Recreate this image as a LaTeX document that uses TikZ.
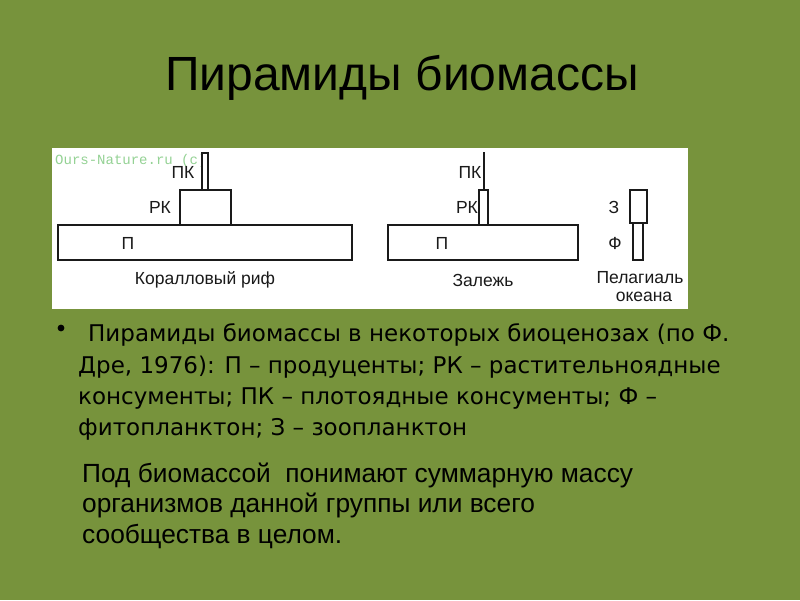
\documentclass[tikz,border=0pt]{standalone}
\usepackage{fontspec}
\setmainfont{Liberation Sans}
\newfontfamily\bodyfont{DejaVu Sans}
\newfontfamily\markfont{Liberation Mono}
\definecolor{bg}{HTML}{77933C}
\definecolor{mark}{HTML}{94D294}
\definecolor{ink}{HTML}{1A1A1A}
\begin{document}
\begin{tikzpicture}[x=1pt,y=-1pt,
  bar/.style={draw=ink,line width=1.3pt,fill=white},
  lbl/.style={font=\fontsize{17.5}{19}\selectfont,text=ink,inner sep=0pt},
  bodyline/.style={anchor=base west,inner sep=0pt,font=\bodyfont\fontsize{23}{26}\selectfont},
  paraline/.style={anchor=base west,inner sep=0pt,font=\fontsize{26.3}{30}\selectfont}]
\fill[bg] (0,0) rectangle (800,600);
\useasboundingbox (0,0) rectangle (800,600);
% title
\node[anchor=base west,inner sep=0pt,font=\fontsize{48}{52}\selectfont] (title) at (165,90) {Пирамиды биомассы};
% white picture
\fill[white] (52,148) rectangle (688,309);
\node[anchor=base west,inner sep=0pt,text=mark,font=\markfont\fontsize{14}{15}\selectfont] (wm) at (55,164) {Ours-Nature.ru (c)};
% coral reef
\draw[bar] (58,225) rectangle (352,260);
\draw[bar] (180,190) rectangle (231,225);
\draw[bar] (202,153) rectangle (208,190);
\node[lbl] (c1) at (183,172) {ПК};
\node[lbl] (c2) at (160,207) {РК};
\node[lbl] (c3) at (128,243) {П};
\node[lbl] (c4) at (205,280) {Коралловый риф};
% zalezh
\draw[bar] (388,225) rectangle (578,260);
\draw[bar] (479,190) rectangle (488,225);
\draw[ink,line width=1.3pt] (484,152) -- (484,190);
\node[lbl] (z1) at (470,172) {ПК};
\node[lbl] (z2) at (467,207) {РК};
\node[lbl] (z3) at (442,243) {П};
\node[lbl] (z4) at (483,280) {Залежь};
% pelagial
\draw[bar] (630,190) rectangle (647,223);
\draw[bar] (633,223) rectangle (643,260);
\node[lbl] (p1) at (614,207) {З};
\node[lbl] (p2) at (615,243) {Ф};
\node[lbl,anchor=base] (p3) at (640,283) {Пелагиаль};
\node[lbl,anchor=base] (p4) at (644,301) {океана};
% bullet text
\fill[black] (61,328) circle (3.4);
\node[bodyline] (b1) at (88,341) {Пирамиды биомассы в некоторых биоценозах (по Ф.};
\node[bodyline] (b2) at (78,373) {Дре, 1976): П – продуценты; РК – растительноядные};
\node[bodyline] (b3) at (78,404) {консументы; ПК – плотоядные консументы; Ф –};
\node[bodyline] (b4) at (78,435) {фитопланктон; З – зоопланктон};
% second paragraph
\node[paraline] (q1) at (82,482) {Под биомассой\ \ понимают суммарную массу};
\node[paraline] (q2) at (82,512) {организмов данной группы или всего};
\node[paraline] (q3) at (82,543) {сообщества в целом.};
\end{tikzpicture}
\end{document}
